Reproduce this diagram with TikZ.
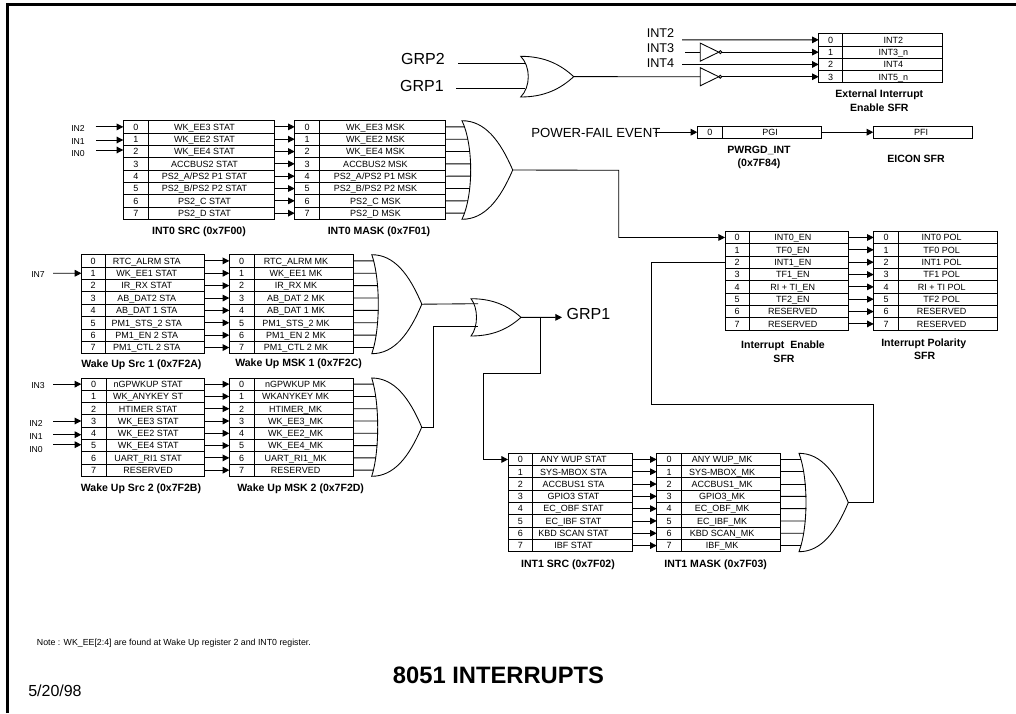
\documentclass[tikz,border=0pt]{standalone}
\usepackage{fontspec}
\setmainfont{Liberation Sans}
\usetikzlibrary{arrows.meta}
\tikzset{
  wire/.style={line width=0.65pt,draw=black},
  arr/.style={wire,-{Triangle[length=5pt,width=5pt]}},
  cell/.style={draw=black,line width=0.65pt,inner sep=0pt,outer sep=0pt,text height=5pt,text depth=0pt,font=\fontsize{6.75}{8}\selectfont},
  captxt/.style={inner sep=0pt,font=\fontsize{7.9}{9}\bfseries\selectfont},
  inlab/.style={inner sep=0pt,font=\fontsize{6.5}{8}\selectfont},
  gatelab/.style={inner sep=0pt,font=\fontsize{9.5}{11}\selectfont},
  biglab/.style={inner sep=0pt,font=\fontsize{12}{14}\selectfont},
  gateshape/.style={line width=0.65pt,draw=black,fill=white}
}
% name, x0, x1, x2, ytop, rowh, text shift, labels
\newcommand{\regtable}[8]{%
  \pgfmathsetlengthmacro{\tk}{2*#7*0.75pt}%
  \foreach \lab [count=\i from 0] in {#8} {
    \pgfmathsetmacro{\yc}{#5+(\i+0.5)*#6}
    \node[cell,minimum height={#6*0.75pt},minimum width={(#3-#2)*0.75pt}] (#1-n-\i) at ({(#2+#3)/2},\yc) {\i};
    \node[cell,minimum height={#6*0.75pt},minimum width={(#4-#3)*0.75pt}] (#1-t-\i) at ({(#3+#4)/2},\yc) {\kern-\tk\relax\lab};
  }%
}
% from table, to table
\newcommand{\rowlinks}[2]{%
  \foreach \i in {0,...,7} { \draw[arr] (#1-t-\i.east) -- (#2-n-\i.west); }%
}
% name, xb, ytop, ybot, bulge, xtip
\newcommand{\orgate}[6]{%
  \pgfmathsetmacro{\yh}{#4-#3}
  \pgfmathsetmacro{\ym}{(#3+#4)/2}
  \pgfmathsetmacro{\xl}{#6-#2}
  \coordinate (#1-out) at (#6,\ym);
  \draw[gateshape] (#2,#3)
    .. controls ({#2+1.33*#5},{#3+0.25*\yh}) and ({#2+1.33*#5},{#4-0.25*\yh}) .. (#2,#4)
    .. controls ({#2+0.45*\xl},#4) and ({#2+0.75*\xl},{\ym+0.3*\yh}) .. (#1-out)
    .. controls ({#2+0.75*\xl},{\ym-0.3*\yh}) and ({#2+0.45*\xl},#3) .. cycle;
}
% table, xb, ytop, ybot, bulge
\newcommand{\gatefeed}[5]{%
  \foreach \i in {0,...,7} {
    \pgfmathsetmacro{\uu}{(\i-3.5)/4}
    \coordinate (#1-g-\i) at ({#2+#5*(1-\uu*\uu)+0.5},{#3+(\i+0.5)*(#4-#3)/8});
    \draw[wire] (#1-t-\i.east) -- (#1-g-\i);
  }%
}
% name, xbase, y
\newcommand{\inverter}[3]{%
  \coordinate (#1-in) at (#2,#3);
  \coordinate (#1-out) at ({#2+21.5},#3);
  \draw[gateshape] (#2,{#3-9}) -- ({#2+18.5},#3) -- (#2,{#3+9}) -- cycle;
  \draw[gateshape] ({#2+20},#3) circle (1.5);
}
\begin{document}
\begin{tikzpicture}[x=0.75pt,y=-0.75pt]
\useasboundingbox (0,0) rectangle (1016,713);
% page frame
\coordinate (fa) at (7.5,713); \coordinate (fb) at (7.5,4.2); \coordinate (fc) at (1016,4.2);
\draw[line width=2pt] (fa) -- (fb) -- (fc);

% ---------- top gate and external interrupt
\node[biglab] (grp2) at (423,59) {GRP2};
\node[biglab] (grp1t) at (422,86) {GRP1};
\coordinate (grp2s) at (458.3,63.7); \coordinate (grp1s) at (456,88);
\orgate{top}{520.7}{56.3}{97}{7.6}{573.7}
\coordinate (top-a) at (525,63.7); \coordinate (top-b) at (525,88);
\draw[wire] (grp2s) -- (top-a);
\draw[wire] (grp1s) -- (top-b);

\regtable{ext}{818.7}{842.7}{942}{33.7}{12.3}{-1}{INT2,INT3\_n,INT4,INT5\_n}
\node[gatelab] (int2l) at (660.5,32.7) {INT2};
\node[gatelab] (int3l) at (660.5,48) {INT3};
\node[gatelab] (int4l) at (660.5,62.7) {INT4};
\coordinate (int2s) at (682,39.85); \coordinate (int3s) at (685,52.15); \coordinate (int4s) at (682,64.45);
\inverter{invA}{700.3}{52.15}
\inverter{invB}{700.3}{76.75}
\draw[arr] (int2s) -- (ext-n-0.west);
\draw[wire] (int3s) -- (invA-in);
\draw[arr] (invA-out) -- (ext-n-1.west);
\draw[arr] (int4s) -- (ext-n-2.west);
\draw[wire] (top-out) -- (invB-in);
\draw[arr] (invB-out) -- (ext-n-3.west);
\node[captxt] (extc1) at (879.3,94.3) {External Interrupt};
\node[captxt] (extc2) at (879.3,107.3) {Enable SFR};

% ---------- power fail
\node[inner sep=0pt,font=\fontsize{9.9}{12}\selectfont] (pf) at (595.8,132.7) {POWER-FAIL EVENT};
\coordinate (pfs) at (655,132.2);
\regtable{pgi}{697.3}{722.3}{821}{126}{12.4}{1.5}{PGI}
\node[cell,minimum height={12.4*0.75pt},minimum width={99.4*0.75pt}] (pfi) at (923,132.2) {\kern-3pt PFI};
\draw[arr] (pfs) -- (pgi-n-0.west);
\draw[arr] (pgi-t-0.east) -- (pfi.west);
\node[captxt] (pgic1) at (759,150.7) {PWRGD\_INT};
\node[captxt] (pgic2) at (759,163.7) {(0x7F84)};
\node[captxt] (eicon) at (916,159.3) {EICON SFR};

% ---------- INT0
\regtable{isrc}{123.3}{148.7}{274.3}{120.7}{12.33}{7}{WK\_EE3 STAT,WK\_EE2 STAT,WK\_EE4 STAT,ACCBUS2 STAT,PS2\_A/PS2 P1 STAT,PS2\_B/PS2 P2 STAT,PS2\_C STAT,PS2\_D STAT}
\regtable{imsk}{294.7}{319.7}{445.3}{120.7}{12.33}{7}{WK\_EE3 MSK,WK\_EE2 MSK,WK\_EE4 MSK,ACCBUS2 MSK,PS2\_A/PS2 P1 MSK,PS2\_B/PS2 P2 MSK,PS2\_C MSK,PS2\_D MSK}
\rowlinks{isrc}{imsk}
\orgate{g0}{462}{120.7}{219.3}{8.7}{512.7}
\gatefeed{imsk}{462}{120.7}{219.3}{8.7}
\node[inlab] (in2a) at (78,128.3) {IN2};
\node[inlab] (in1a) at (78,142) {IN1};
\node[inlab] (in0a) at (78,154) {IN0};
\coordinate (in2as) at (95.7,126.9); \coordinate (in1as) at (96,140); \coordinate (in0as) at (96,150);
\draw[arr] (in2as) -- (in2as -| isrc-n-0.west);
\draw[arr] (in1as) -- (in1as -| isrc-n-1.west);
\draw[arr] (in0as) -- (in0as -| isrc-n-2.west);
\node[captxt] (c1) at (199,231.7) {INT0 SRC (0x7F00)};
\node[captxt] (c2) at (379,231.7) {INT0 MASK (0x7F01)};

% ---------- Interrupt enable / polarity
\regtable{en}{725}{749.3}{848.3}{231.3}{12.35}{6}{INT0\_EN,TF0\_EN,INT1\_EN,TF1\_EN,RI + TI\_EN,TF2\_EN,RESERVED,RESERVED}
\regtable{pol}{873.7}{898.3}{997}{231.3}{12.35}{6}{INT0 POL,TF0 POL,INT1 POL,TF1 POL,RI + TI POL,TF2 POL,RESERVED,RESERVED}
\rowlinks{en}{pol}
\coordinate (b0) at (618.7,170.3);
\draw[arr] (g0-out) -- (b0) |- (en-n-0.west);
\node[captxt] (c3) at (783,345.7) {Interrupt\ \ Enable};
\node[captxt] (c4) at (784,358.5) {SFR};
\node[captxt] (c5) at (923.7,343.3) {Interrupt Polarity};
\node[captxt] (c6) at (924.7,355.7) {SFR};

% ---------- Wake Up 1
\regtable{wsa}{81.4}{105}{204.6}{254.7}{12.38}{8}{RTC\_ALRM STA,WK\_EE1 STAT,IR\_RX STAT,AB\_DAT2 STA,AB\_DAT 1 STA,PM1\_STS\_2 STA,PM1\_EN 2 STA,PM1\_CTL 2 STA}
\regtable{wma}{229.3}{254}{353.2}{254.7}{12.38}{7.6}{RTC\_ALRM MK,WK\_EE1 MK,IR\_RX MK,AB\_DAT 2 MK,AB\_DAT 1 MK,PM1\_STS\_2 MK,PM1\_EN 2 MK,PM1\_CTL 2 MK}
\rowlinks{wsa}{wma}
\orgate{g1}{371.8}{254.7}{353.7}{6.5}{421.8}
\gatefeed{wma}{371.8}{254.7}{353.7}{6.5}
\node[inlab] (in7) at (38,275) {IN7};
\coordinate (in7s) at (53,273.3);
\draw[arr] (in7s) -- (wsa-n-1.west);
\node[captxt] (c7) at (141.4,365) {Wake Up Src 1 (0x7F2A)};
\node[captxt] (c8) at (298.6,364) {Wake Up MSK 1 (0x7F2C)};

% ---------- Wake Up 2
\regtable{wsb}{81.3}{106}{204.3}{378}{12.29}{7}{nGPWKUP STAT,WK\_ANYKEY ST,HTIMER STAT,WK\_EE3 STAT,WK\_EE2 STAT,WK\_EE4 STAT,UART\_RI1 STAT,RESERVED}
\regtable{wmb}{229.3}{254}{353.3}{378}{12.29}{8}{nGPWKUP MK,WKANYKEY MK,HTIMER\_MK,WK\_EE3\_MK,WK\_EE2\_MK,WK\_EE4\_MK,UART\_RI1\_MK,RESERVED}
\rowlinks{wsb}{wmb}
\orgate{g3}{371.7}{378}{476.3}{6}{421.7}
\gatefeed{wmb}{371.7}{378}{476.3}{6}
\node[inlab] (in3b) at (38,385.3) {IN3};
\node[inlab] (in2b) at (36,423.3) {IN2};
\node[inlab] (in1b) at (36,436.7) {IN1};
\node[inlab] (in0b) at (36,449.3) {IN0};
\coordinate (in3bs) at (53.3,384.15); \coordinate (in2bs) at (53.3,421); \coordinate (in1bs) at (53.3,434.7); \coordinate (in0bs) at (53.3,444.7);
\draw[arr] (in3bs) -- (in3bs -| wsb-n-0.west);
\draw[arr] (in2bs) -- (in2bs -| wsb-n-3.west);
\draw[arr] (in1bs) -- (in1bs -| wsb-n-4.west);
\draw[arr] (in0bs) -- (in0bs -| wsb-n-5.west);
\node[captxt] (c9) at (141,488.7) {Wake Up Src 2 (0x7F2B)};
\node[captxt] (c10) at (300.7,488.7) {Wake Up MSK 2 (0x7F2D)};

% ---------- group gate
\orgate{g2}{471}{298.7}{336}{5.5}{521}
\coordinate (g2-a) at (478,303.7); \coordinate (g2-b) at (478,326.7);
\coordinate (j1) at (433.7,326.7);
\draw[wire] (g1-out) -- (g2-a);
\draw[wire] (g3-out) -| (j1) -- (g2-b);
\node[biglab] (grp1o) at (588.5,314.3) {GRP1};
\coordinate (gout) at (562,317.35);
\draw[arr] (g2-out) -- (gout);

% ---------- INT1
\regtable{xsrc}{508}{532.7}{632.3}{453.3}{12.3}{9}{ANY WUP STAT,SYS-MBOX STA,ACCBUS1 STA,GPIO3 STAT,EC\_OBF STAT,EC\_IBF STAT,KBD SCAN STAT,IBF STAT}
\regtable{xmsk}{656.7}{681.3}{780.7}{453.3}{12.3}{9}{ANY WUP\_MK,SYS-MBOX\_MK,ACCBUS1\_MK,GPIO3\_MK,EC\_OBF\_MK,EC\_IBF\_MK,KBD SCAN\_MK,IBF\_MK}
\rowlinks{xsrc}{xmsk}
\orgate{g4}{799}{453.3}{551.7}{7}{848.3}
\gatefeed{xmsk}{799}{453.3}{551.7}{7}
\coordinate (k0) at (540,317.35);
\coordinate (k1) at (540,373);
\coordinate (k2) at (483,373);
\draw[wire] (k0) -- (k1) -- (k2);
\draw[arr] (k2) |- (xsrc-n-0.west);
\coordinate (m1) at (873.3,404);
\coordinate (m2) at (651.3,404);
\draw[wire] (g4-out) -| (m1) -- (m2) |- (en-n-2.west);
\node[captxt] (c11) at (568,564.3) {INT1 SRC (0x7F02)};
\node[captxt] (c12) at (715.7,564.3) {INT1 MASK (0x7F03)};

% ---------- footer
\node[anchor=west,inner sep=0pt,font=\fontsize{6.6}{8}\selectfont] (note) at (36.7,643.3) {Note : WK\_EE[2:4] are found at Wake Up register 2 and INT0 register.};
\node[anchor=west,inner sep=0pt,font=\fontsize{12}{14}\selectfont] (date) at (28,690.7) {5/20/98};
\node[anchor=west,inner sep=0pt,font=\fontsize{17.8}{20}\bfseries\selectfont] (title) at (392.7,675) {8051 INTERRUPTS};
\end{tikzpicture}
\end{document}
